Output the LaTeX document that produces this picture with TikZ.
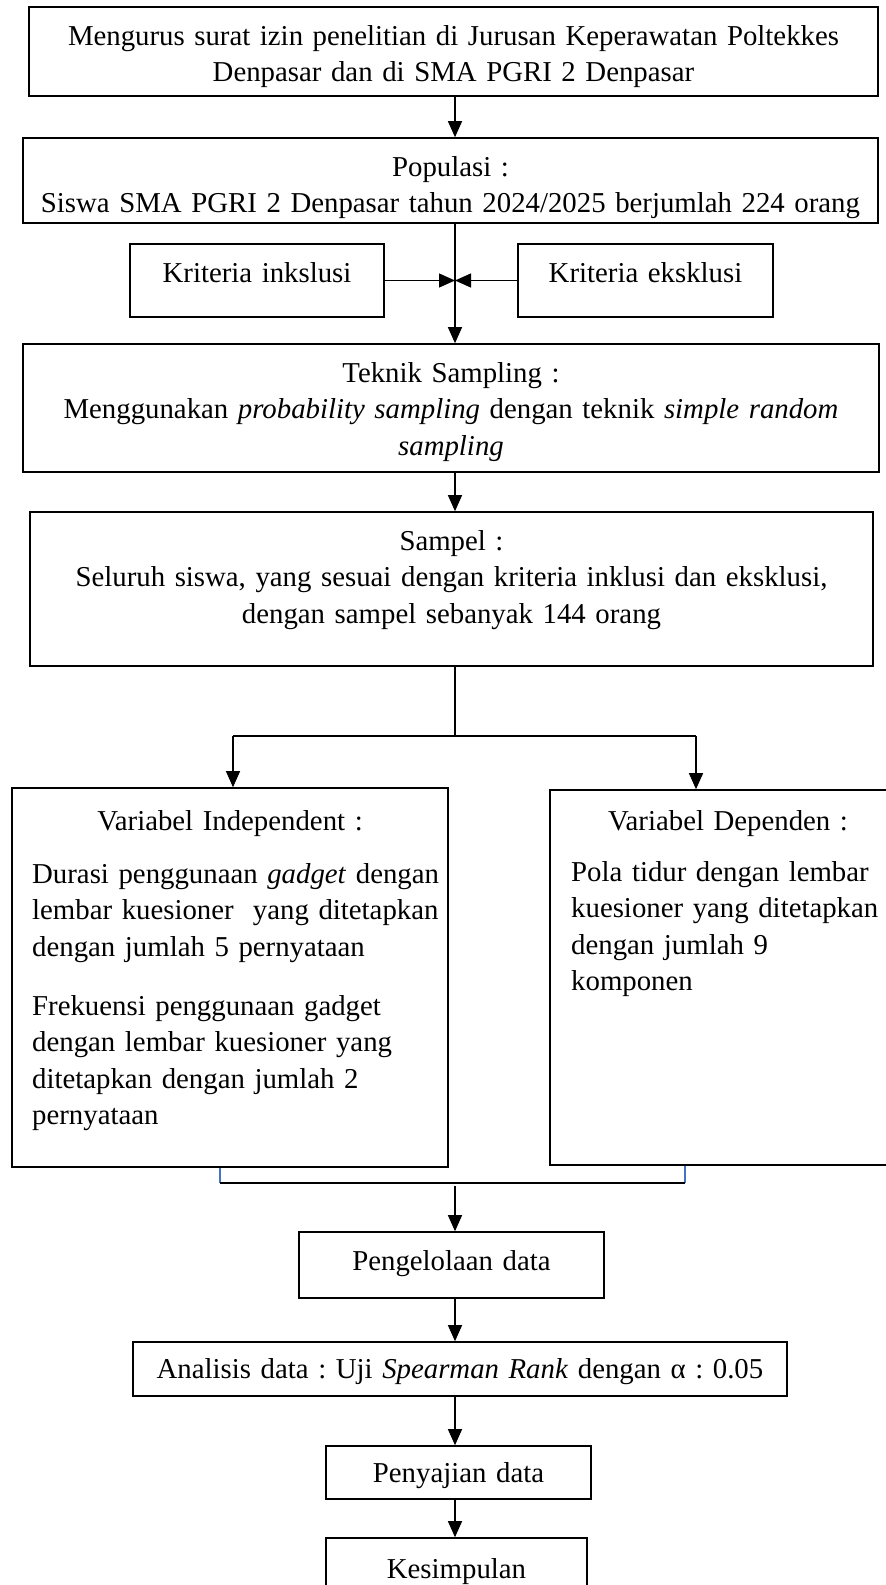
\documentclass[tikz,border=0pt]{standalone}
\usepackage{fontspec}
\setmainfont{Liberation Serif}
\usetikzlibrary{arrows.meta}
\definecolor{tickblue}{HTML}{4472C4}
\newcommand{\fsz}{\fontsize{28.8pt}{36.5pt}\selectfont\frenchspacing}
\begin{document}
\begin{tikzpicture}[x=1pt,y=1pt,
  box/.style={draw, line width=1.6pt, inner sep=0pt, rectangle},
  ctxt/.style={inner sep=0pt, font=\fsz, anchor=base, align=center, text width=#1},
  ltxt/.style={inner sep=0pt, font=\fsz, anchor=base west, align=left, text width=#1},
  conn/.style={line width=1.2pt},
  arr/.style={conn, -{Triangle[length=16pt,width=14pt]}},
  tickline/.style={line width=1.2pt, draw=tickblue}]
\useasboundingbox (0,0) rectangle (886,-1585);
\fill[white] (0,0) rectangle (886,-1585);
\coordinate (col) at (455,0);
% boxes
\node[box, minimum width=849pt, minimum height=89pt] (top) at (453.5,-51.5) {};
\node[box, minimum width=855pt, minimum height=85pt] (pop) at (450.5,-180.5) {};
\node[box, minimum width=254pt, minimum height=73pt] (inkl) at (257,-280.5) {};
\node[box, minimum width=255pt, minimum height=73pt] (eksk) at (645.5,-280.5) {};
\node[box, minimum width=856pt, minimum height=128pt] (tek) at (451,-408) {};
\node[box, minimum width=843pt, minimum height=154pt] (sam) at (451.5,-589) {};
\node[box, minimum width=436pt, minimum height=379pt] (vi) at (230,-977.5) {};
\node[box, minimum width=356pt, minimum height=375pt] (vd) at (728,-977.5) {};
\node[box, minimum width=305pt, minimum height=66pt] (peng) at (451.5,-1265) {};
\node[box, minimum width=654pt, minimum height=54pt] (ana) at (460,-1369) {};
\node[box, minimum width=265pt, minimum height=53pt] (pen) at (458.5,-1472.5) {};
\node[box, minimum width=261pt, minimum height=62pt] (kes) at (456.5,-1569) {};
% texts
\node[ctxt=840pt] (toptxt) at (453.5,-45) {Mengurus surat izin penelitian di Jurusan Keperawatan Poltekkes\\Denpasar dan di SMA PGRI 2 Denpasar};
\node[ctxt=850pt] (poptxt) at (450.5,-176) {Populasi :\\Siswa SMA PGRI 2 Denpasar tahun 2024/2025 berjumlah 224 orang};
\node[ctxt=250pt] (inkltxt) at (257,-282) {Kriteria inkslusi};
\node[ctxt=250pt] (eksktxt) at (645.5,-282) {Kriteria eksklusi};
\node[ctxt=850pt] (tektxt) at (451,-382) {Teknik Sampling :\\Menggunakan \textit{probability sampling} dengan teknik \textit{simple random}\\\textit{sampling}};
\node[ctxt=840pt] (samtxt) at (451.5,-550) {Sampel :\\Seluruh siswa, yang sesuai dengan kriteria inklusi dan eksklusi,\\dengan sampel sebanyak 144 orang};
\node[ctxt=430pt] (vihead) at (230,-830) {Variabel Independent :};
\node[ltxt=440pt] (vip1) at (32,-883) {Durasi penggunaan \textit{gadget} dengan\\lembar kuesioner\ \ yang ditetapkan\\dengan jumlah 5 pernyataan};
\node[ltxt=440pt] (vip2) at (32,-1015) {Frekuensi penggunaan gadget\\dengan lembar kuesioner yang\\ditetapkan dengan jumlah 2\\pernyataan};
\node[ctxt=340pt] (vdhead) at (728,-830) {Variabel Dependen :};
\node[ltxt=330pt] (vdp) at (571,-881) {Pola tidur dengan lembar\\kuesioner yang ditetapkan\\dengan jumlah 9\\komponen};
\node[ctxt=300pt] (pengtxt) at (451.5,-1270) {Pengelolaan data};
\node[ctxt=650pt] (anatxt) at (460,-1378) {Analisis data : Uji \textit{Spearman Rank} dengan α : 0.05};
\node[ctxt=260pt] (pentxt) at (458.5,-1482) {Penyajian data};
\node[ctxt=256pt] (kestxt) at (456.5,-1578) {Kesimpulan};
% connectors
\draw[arr] (top.south -| col) -- (pop.north -| col);
\draw[arr] (pop.south -| col) -- (tek.north -| col);
\draw[arr] (inkl.east) -- (inkl.east -| col);
\draw[arr] (eksk.west) -- (eksk.west -| col);
\draw[arr] (tek.south -| col) -- (sam.north -| col);
\coordinate (bj) at (455,-736);
\coordinate (bl) at (233,-736);
\coordinate (br) at (696,-736);
\draw[conn] (sam.south -| col) -- (bj);
\draw[conn] (bl) -- (br);
\draw[arr] (bl) -- (bl |- vi.north);
\draw[arr] (br) -- (br |- vd.north);
% bracket
\coordinate (tl) at (220,-1183);
\coordinate (tr) at (685,-1183);
\draw[tickline] (tl |- vi.south) -- (tl);
\draw[tickline] (tr |- vd.south) -- (tr);
\draw[conn] (tl) -- (tr);
\coordinate (mj) at (455,-1186);
\draw[arr] (mj) -- (peng.north -| col);
\draw[arr] (peng.south -| col) -- (ana.north -| col);
\draw[arr] (ana.south -| col) -- (pen.north -| col);
\draw[arr] (pen.south -| col) -- (kes.north -| col);
\end{tikzpicture}
\end{document}
